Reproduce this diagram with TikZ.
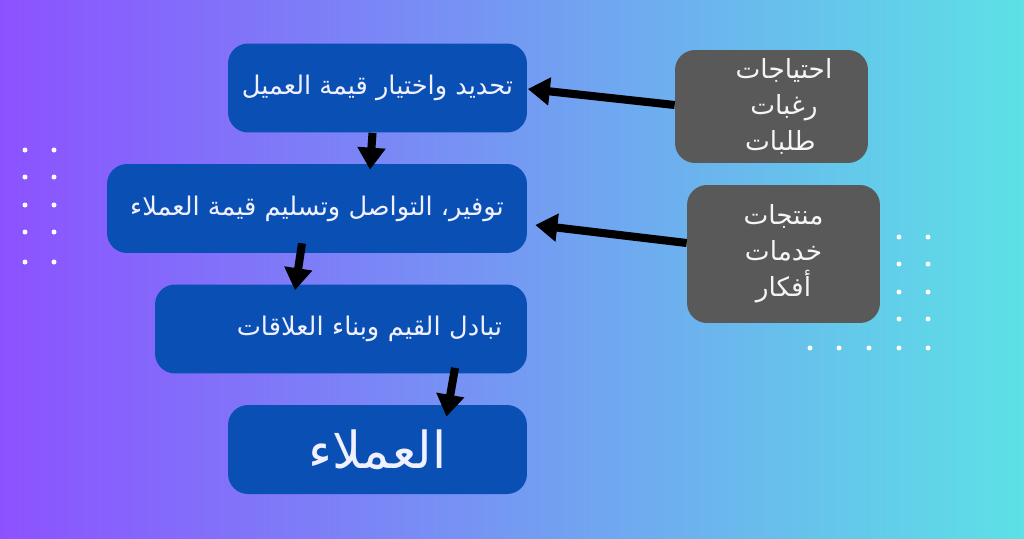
\documentclass[tikz,border=0pt]{standalone}
\usepackage{fontspec}
\newfontfamily\arabicfont[Script=Arabic]{DejaVu Sans}
\TeXXeTstate=1
\usetikzlibrary{
  arrows.meta,
  calc}

\definecolor{bgleft}{HTML}{8C52FF}
\definecolor{bgright}{HTML}{5CE1E6}
\definecolor{stageblue}{HTML}{0A50B4}
\definecolor{sourcegray}{HTML}{595959}

\begin{document}
\begin{tikzpicture}[x=0.02cm,y=-0.02cm]
\tikzset{
  stage/.style={fill=stageblue, rounded corners=0.4cm, text=white!94!blue,
    inner sep=0pt, minimum height=1.78cm,
    font=\arabicfont\fontsize{14.6}{17}\selectfont},
  source/.style={fill=sourcegray, rounded corners=0.4cm, text=white!96!black,
    inner sep=0pt, minimum width=3.86cm, align=center,
    font=\arabicfont\fontsize{15}{20.5}\selectfont},
  flow/.style={line width=4.6pt, -{Triangle[length=0.44cm,width=0.54cm]}},
}

\fill[left color=bgleft, right color=bgright] (0,0) rectangle (1024,538);

% dots
\foreach \y in {150,177,205,232,262}
  \foreach \x in {25,54}
    \fill[white] (\x,\y) circle (0.05cm);
\foreach \y in {237,264,292,319}
  \foreach \x in {899,928}
    \fill[white] (\x,\y) circle (0.05cm);
\foreach \x in {810,839,869,899,928}
  \fill[white] (\x,348) circle (0.05cm);

\node[stage, minimum width=5.98cm] (choose) at (377.5,88)
  {\beginR تحديد واختيار قيمة العميل\endR};
\node[stage, minimum width=8.4cm] (deliver) at (317,208.5)
  {\beginR توفير، التواصل وتسليم قيمة العملاء\endR};
\node[stage, minimum width=7.44cm, text width=6.44cm, align=right] (relate) at (341,329)
  {\beginR تبادل القيم وبناء العلاقات\endR};
\node[stage, minimum width=5.98cm, font=\arabicfont\fontsize{29}{33}\selectfont] (clients) at (377.5,449.5)
  {\beginR العملاء\endR};

\node[source, minimum height=2.26cm, text width=3.86cm] (needs) at (771.5,106.5)
  {\hspace*{0.5cm}\beginR احتياجات\endR\\ \hspace*{0.5cm}\beginR رغبات\endR\\ \hspace*{0.35cm}\beginR طلبات\endR};
\node[source, minimum height=2.76cm] (offers) at (783.5,254)
  {\beginR منتجات\endR\\ \beginR خدمات\endR\\ \beginR أفكار\endR};

\draw[flow] ($(choose.south)+(-5,0)$) -- ($(deliver.north)+(53,6)$);
\draw[flow] ($(deliver.south)+(-15,-10)$) -- ($(relate.north)+(-46,6)$);
\draw[flow] ($(relate.south)+(114,-6)$) -- ($(clients.north)+(69,12)$);
\draw[flow] ($(needs.west)+(0,-1.5)$) -- ($(choose.east)+(0.5,1)$);
\draw[flow] ($(offers.west)+(0,-11)$) -- ($(deliver.east)+(8,16.5)$);

\end{tikzpicture}
\end{document}
